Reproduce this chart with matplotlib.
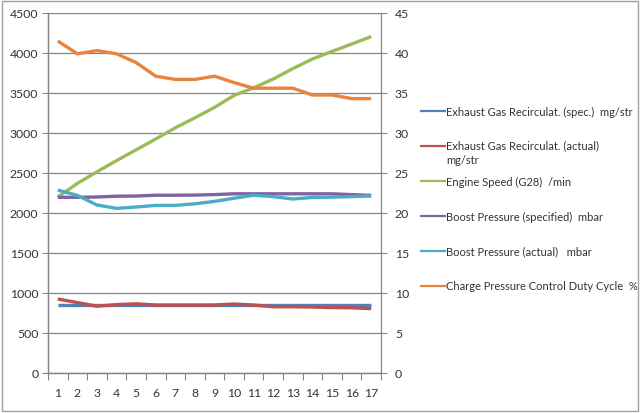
import matplotlib
matplotlib.use("Agg")
import matplotlib.pyplot as plt
from matplotlib.lines import Line2D
from matplotlib.patches import Rectangle
import numpy as np

plt.rcParams["font.family"] = ["Lato", "DejaVu Sans"]

samples = np.arange(1, 18)

egr_spec = [850, 850, 850, 850, 850, 850, 850, 850, 850, 850, 850, 850, 850, 850, 850, 850, 850]
egr_actual = [925, 880, 835, 855, 865, 850, 850, 850, 850, 862, 850, 828, 828, 825, 818, 815, 805]
engine_speed = [2200, 2370, 2515, 2655, 2790, 2925, 3065, 3190, 3320, 3470, 3565, 3675, 3805, 3925, 4020, 4112, 4205]
boost_spec = [2196, 2196, 2200, 2210, 2212, 2222, 2222, 2224, 2230, 2240, 2240, 2240, 2240, 2240, 2240, 2230, 2220]
boost_actual = [2287, 2220, 2100, 2058, 2075, 2095, 2095, 2115, 2145, 2185, 2222, 2205, 2175, 2195, 2198, 2205, 2212]
duty_cycle = [41.5, 39.9, 40.3, 39.9, 38.8, 37.1, 36.7, 36.7, 37.1, 36.3, 35.6, 35.6, 35.6, 34.75, 34.75, 34.3, 34.3]

labels = [
    "Exhaust Gas Recirculat. (spec.)  mg/str",
    "Exhaust Gas Recirculat. (actual)\nmg/str",
    "Engine Speed (G28)  /min",
    "Boost Pressure (specified)  mbar",
    "Boost Pressure (actual)   mbar",
    "Charge Pressure Control Duty Cycle  %",
]
colors = ["#4F81BD", "#C0504D", "#9BBB59", "#8064A2", "#4BACC6", "#E8843C"]

GRAY = "#868686"
TEXT = "#333333"
FS = 8.8
LFS = 8.0

fig = plt.figure(figsize=(6.4, 4.14), dpi=100)
fig.add_artist(Rectangle((0.003, 0.004), 0.994, 0.992, transform=fig.transFigure,
                         fill=False, edgecolor="#A0A0A0", linewidth=1.0))

ax = fig.add_axes([48 / 640, 40 / 414, 333 / 640, 360 / 414])
ax2 = ax.twinx()

lw = 2.4
for vals, c in zip([egr_spec, egr_actual, engine_speed, boost_spec, boost_actual], colors[:5]):
    ax.plot(samples, vals, color=c, lw=lw, solid_capstyle="butt")
ax2.plot(samples, duty_cycle, color=colors[5], lw=lw, solid_capstyle="butt")

ax.set_xlim(0.5, 17.5)
ax.set_ylim(0, 4500)
ax2.set_ylim(0, 45)
ax.set_yticks(np.arange(0, 4501, 500))
ax2.set_yticks(np.arange(0, 46, 5))
ax.grid(axis="y", color=GRAY, linewidth=0.9)
ax.set_axisbelow(True)

# category axis: ticks between categories, labels centred
ax.set_xticks(np.arange(0.5, 18, 1))
ax.set_xticklabels([])
ax.set_xticks(samples, minor=True)
ax.set_xticklabels([str(s) for s in samples], minor=True)
ax.tick_params(axis="x", which="major", length=5, color=GRAY, direction="out")
ax.tick_params(axis="x", which="minor", length=0, pad=10, labelsize=FS, labelcolor=TEXT)
ax.tick_params(axis="y", length=4, color=GRAY, labelsize=FS, labelcolor=TEXT, pad=3)
ax2.tick_params(axis="y", length=4, color=GRAY, labelsize=FS, labelcolor=TEXT, pad=6)

for a in (ax, ax2):
    a.spines["top"].set_visible(False)
    for s in ("left", "right", "bottom"):
        a.spines[s].set_color(GRAY)
        a.spines[s].set_linewidth(0.9)
ax.spines["right"].set_visible(False)

# legend drawn to the right, Excel-style
entry_y = [112, 147, 182, 217, 252, 287]
for lab, c, yy in zip(labels, colors, entry_y):
    fy = 1 - yy / 414
    fig.add_artist(Line2D([421 / 640, 445 / 640], [fy, fy], transform=fig.transFigure,
                          color=c, lw=1.6))
    if "\n" in lab:
        fig.text(446 / 640, fy + 7 / 414, lab, fontsize=LFS, color=TEXT, va="top",
                 ha="left", linespacing=1.45)
    else:
        fig.text(446 / 640, fy, lab, fontsize=LFS, color=TEXT, va="center", ha="left")

fig.savefig("out.png", dpi=100)
